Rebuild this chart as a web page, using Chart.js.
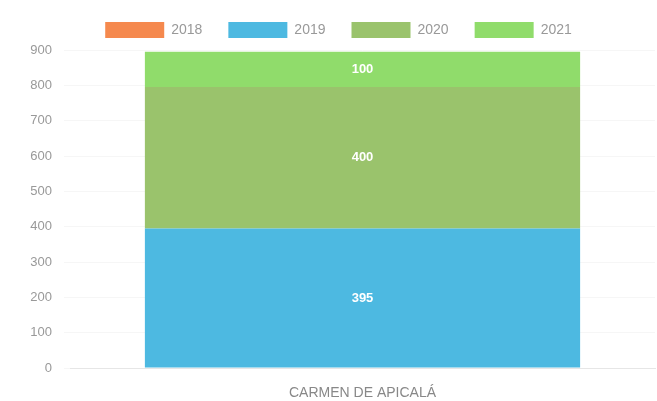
<!DOCTYPE html>
<html>
<head>
<meta charset="utf-8">
<script src="https://cdn.jsdelivr.net/npm/chart.js@4/dist/chart.umd.min.js"></script>
<style>
  html, body { margin: 0; padding: 0; background: #fff; }
  #wrap { width: 657px; height: 401px; }
</style>
</head>
<body>
<div id="wrap"><canvas id="chart"></canvas></div>
<script>
// data
const categories = ['CARMEN DE APICALÁ'];
const seriesNames = ['2018', '2019', '2020', '2021'];
const values2018 = [0];
const values2019 = [395];
const values2020 = [400];
const values2021 = [100];
const yTicks = [0, 100, 200, 300, 400, 500, 600, 700, 800, 900];

const colors = ['#f5894e', '#4db9e1', '#9ac36c', '#90dc6b'];
const allValues = [values2018, values2019, values2020, values2021];

// draws the value in the middle of each segment (no datalabels plugin offline)
const segmentLabels = {
    id: 'segmentLabels',
    afterDatasetsDraw(chart) {
        const ctx = chart.ctx;
        ctx.save();
        ctx.fillStyle = '#ffffff';
        ctx.font = 'bold 13px "Liberation Sans", Arial, sans-serif';
        ctx.textAlign = 'center';
        ctx.textBaseline = 'middle';
        chart.data.datasets.forEach((ds, i) => {
            const meta = chart.getDatasetMeta(i);
            meta.data.forEach((bar, j) => {
                const v = ds.data[j];
                if (!v) return;
                const mid = (bar.y + bar.base) / 2;
                ctx.fillText(v, bar.x, mid);
            });
        });
        ctx.restore();
    }
};

// legend padding widens the gaps between items, but also adds height; trim it back
const legendHeight = {
    id: 'legendHeight',
    beforeInit(chart) {
        const legend = chart.legend;
        const fit = legend.fit;
        legend.fit = function () {
            fit.call(this);
            this.height = 54;
        };
    }
};

new Chart(document.getElementById('chart'), {
    type: 'bar',
    data: {
        labels: categories,
        datasets: seriesNames.map((name, i) => ({
            label: name,
            data: allValues[i],
            backgroundColor: colors[i],
            borderWidth: 0,
            barPercentage: 0.93
        }))
    },
    options: {
        responsive: true,
        maintainAspectRatio: false,
        animation: false,
        layout: { padding: { left: 22, right: 2, top: -4, bottom: 0 } },
        scales: {
            x: {
                stacked: true,
                grid: { display: false },
                border: { color: '#e6e6e6' },
                ticks: { color: '#888', padding: 9, font: { family: 'Liberation Sans', size: 14 } },
                afterFit: axis => { axis.height = 33; }
            },
            y: {
                stacked: true,
                min: 0,
                max: 900,
                afterBuildTicks: axis => { axis.ticks = yTicks.map(v => ({ value: v })); },
                grid: { color: '#f6f6f6', drawTicks: true, tickLength: 6 },
                border: { display: false },
                ticks: { color: '#999', padding: 12, font: { family: 'Liberation Sans', size: 13 } },
                afterFit: axis => { axis.width = 48; }
            }
        },
        plugins: {
            legend: {
                position: 'top',
                labels: {
                    boxWidth: 59,
                    boxHeight: 16,
                    color: '#999',
                    padding: 26,
                    font: { family: 'Liberation Sans', size: 14 }
                }
            },
            tooltip: { enabled: false }
        }
    },
    plugins: [segmentLabels, legendHeight]
});
</script>
</body>
</html>
